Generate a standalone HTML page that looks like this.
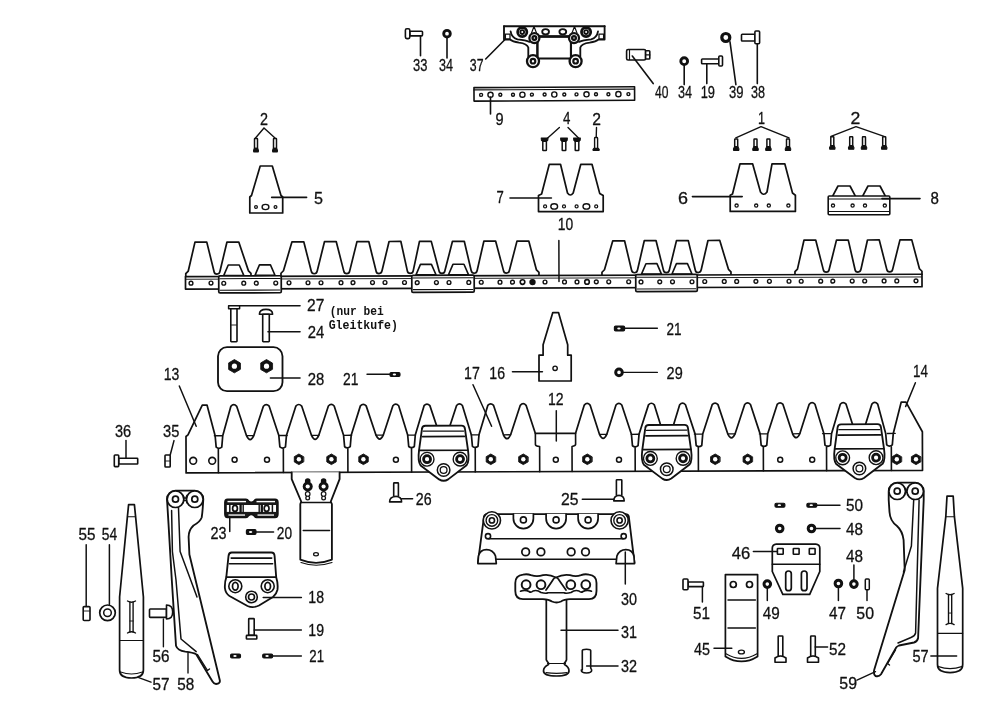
<!DOCTYPE html>
<html><head><meta charset="utf-8"><style>
html,body{margin:0;padding:0;background:#fff;width:1000px;height:712px;overflow:hidden}
svg{display:block;filter:grayscale(1)}
text{font-family:"Liberation Sans",sans-serif;fill:#111;stroke:#111;stroke-width:0.3px}
text.mono{font-family:"Liberation Mono",monospace;stroke:none;font-weight:bold}
</style></head><body>
<svg width="1000" height="712" viewBox="0 0 1000 712" stroke="#111" stroke-width="1.6" stroke-linejoin="round" stroke-linecap="round">
<rect x="0" y="0" width="1000" height="712" fill="#fff" stroke="none"/>
<rect x="409.8" y="31.3" width="12.7" height="4.6" rx="0.8" fill="#fff"/>
<rect x="405.4" y="28.8" width="4.4" height="9.8" rx="1.5" fill="#fff"/>
<line x1="420.5" y1="35.9" x2="420.5" y2="55.7"/>
<text x="413" y="71" textLength="14.4" lengthAdjust="spacingAndGlyphs" font-size="17">33</text>
<circle cx="447" cy="33.7" r="3.3" fill="#fff" stroke-width="2.88"/>
<line x1="447" y1="38" x2="447" y2="58"/>
<text x="439" y="71" textLength="14" lengthAdjust="spacingAndGlyphs" font-size="17">34</text>
<rect x="537.4" y="36.5" width="33.5" height="21.9" fill="#fff" stroke-width="1.95"/>
<line x1="537.4" y1="36.5" x2="570.9" y2="36.5" stroke-width="2.53"/>
<line x1="504" y1="26.2" x2="604.6" y2="26.2" stroke-width="2.07"/>
<path d="M504,26.2 L504,39.5 L510,39.5 Q512.5,41.5 519,42.6 Q527,43.6 528.3,47.5 L528.3,57" fill="none" stroke-width="1.84"/>
<path d="M604.6,26.2 L604.6,39.5 L598.6,39.5 Q596.1,41.5 589.6,42.6 Q581.6,43.6 580.3,47.5 L580.3,57" fill="none" stroke-width="1.84"/>
<path d="M510.6,31.4 Q511.5,37.5 517.5,39.4 Q526,40.4 529.5,41.8" fill="none" stroke-width="1.84"/>
<path d="M598,31.4 Q597.1,37.5 591.1,39.4 Q582.6,40.4 579.1,41.8" fill="none" stroke-width="1.84"/>
<rect x="505.4" y="34.1" width="4.6" height="5.1" fill="none" stroke-width="1.26"/>
<rect x="599" y="34.1" width="4.6" height="5.1" fill="none" stroke-width="1.26"/>
<line x1="537.4" y1="43" x2="537.4" y2="57" stroke-width="2.07"/>
<line x1="571" y1="43" x2="571" y2="57" stroke-width="2.07"/>
<circle cx="522.25" cy="32.1" r="4.6" fill="#fff" stroke-width="2.76"/>
<circle cx="522.25" cy="32.1" r="1.9" fill="#fff" stroke-width="1.84"/>
<circle cx="586.1" cy="32.1" r="4.6" fill="#fff" stroke-width="2.76"/>
<circle cx="586.1" cy="32.1" r="1.9" fill="#fff" stroke-width="1.84"/>
<ellipse cx="545.6" cy="31.8" rx="3.4" ry="2.6" fill="#fff" stroke-width="1.84"/>
<ellipse cx="562.8" cy="31.8" rx="3.4" ry="2.6" fill="#fff" stroke-width="1.84"/>
<path d="M531.5,33 L534,26.5 L536.5,33 M572,33 L574.5,26.5 L577,33" fill="none" stroke-width="1.15"/>
<circle cx="534.4" cy="38.1" r="5" fill="#fff" stroke-width="2.3"/>
<circle cx="534.4" cy="38.1" r="1.9" fill="#fff" stroke-width="2.3"/>
<circle cx="574" cy="38.1" r="5" fill="#fff" stroke-width="2.3"/>
<circle cx="574" cy="38.1" r="1.9" fill="#fff" stroke-width="2.3"/>
<circle cx="533" cy="61.2" r="6" fill="#fff" stroke-width="2.3"/>
<circle cx="533" cy="61.2" r="2.3" fill="#fff" stroke-width="2.18"/>
<circle cx="575.6" cy="61.2" r="6" fill="#fff" stroke-width="2.3"/>
<circle cx="575.6" cy="61.2" r="2.3" fill="#fff" stroke-width="2.18"/>
<line x1="485.7" y1="59" x2="504.5" y2="40"/>
<text x="469.8" y="71" textLength="13.7" lengthAdjust="spacingAndGlyphs" font-size="17">37</text>
<rect x="626.6" y="49.5" width="19" height="10.5" rx="1.5" fill="#fff"/>
<line x1="629.5" y1="50" x2="629.5" y2="59.5" stroke-width="1.15"/>
<rect x="645.6" y="50.8" width="4.2" height="8.2" rx="0.8" fill="#fff"/>
<line x1="645.6" y1="54.9" x2="649.8" y2="54.9" stroke-width="1.15"/>
<line x1="632.3" y1="56" x2="653.2" y2="83.6"/>
<text x="655" y="98" textLength="13.4" lengthAdjust="spacingAndGlyphs" font-size="17">40</text>
<circle cx="684.2" cy="61.2" r="3.4" fill="#fff" stroke-width="2.88"/>
<line x1="684.2" y1="65.4" x2="684.2" y2="84.6"/>
<text x="678" y="98" textLength="14" lengthAdjust="spacingAndGlyphs" font-size="17">34</text>
<rect x="701.6" y="59" width="17.2" height="4.7" rx="0.8" fill="#fff"/>
<rect x="718.8" y="56" width="3.7" height="10" rx="1" fill="#fff"/>
<line x1="706.8" y1="63.7" x2="706.8" y2="83.6"/>
<text x="700.7" y="98" textLength="14.3" lengthAdjust="spacingAndGlyphs" font-size="17">19</text>
<circle cx="725.8" cy="37.5" r="4" fill="#fff" stroke-width="3.22"/>
<line x1="730" y1="41.8" x2="735.9" y2="84.6"/>
<text x="729" y="98" textLength="14.5" lengthAdjust="spacingAndGlyphs" font-size="17">39</text>
<rect x="741.5" y="34.3" width="13.4" height="6.7" rx="0.8" fill="#fff"/>
<rect x="754.9" y="31" width="4.7" height="12.8" rx="1" fill="#fff"/>
<line x1="757.3" y1="43.8" x2="757.3" y2="83.6"/>
<text x="751" y="98" textLength="14" lengthAdjust="spacingAndGlyphs" font-size="17">38</text>
<g transform="translate(0,0.2) rotate(-0.3 554 94)">
<rect x="474" y="87" width="160.6" height="13.5" fill="#fff"/>
<line x1="474" y1="89.3" x2="634.6" y2="89.3" stroke-width="1.15"/>
<circle cx="481.1" cy="94.3" r="1.5" fill="#fff" stroke-width="1.38"/>
<circle cx="490.5" cy="94.3" r="2.6" fill="#fff" stroke-width="1.38"/>
<circle cx="500.3" cy="94.3" r="1.5" fill="#fff" stroke-width="1.38"/>
<circle cx="513" cy="94.3" r="1.5" fill="#fff" stroke-width="1.38"/>
<circle cx="522.4" cy="94.3" r="2.6" fill="#fff" stroke-width="1.38"/>
<circle cx="531.9" cy="94.3" r="1.5" fill="#fff" stroke-width="1.38"/>
<circle cx="544.6" cy="94.3" r="1.5" fill="#fff" stroke-width="1.38"/>
<circle cx="554.3" cy="94.3" r="2.6" fill="#fff" stroke-width="1.38"/>
<circle cx="564.3" cy="94.3" r="1.5" fill="#fff" stroke-width="1.38"/>
<circle cx="576.5" cy="94.3" r="1.5" fill="#fff" stroke-width="1.38"/>
<circle cx="586.5" cy="94.3" r="2.6" fill="#fff" stroke-width="1.38"/>
<circle cx="596" cy="94.3" r="1.5" fill="#fff" stroke-width="1.38"/>
<circle cx="608.4" cy="94.3" r="1.5" fill="#fff" stroke-width="1.38"/>
<circle cx="618.4" cy="94.3" r="2.6" fill="#fff" stroke-width="1.38"/>
<circle cx="628.4" cy="94.3" r="1.5" fill="#fff" stroke-width="1.38"/>
</g>
<line x1="490.5" y1="97" x2="490.5" y2="114"/>
<text x="495.4" y="124.9" textLength="8.1" lengthAdjust="spacingAndGlyphs" font-size="17">9</text>
<text x="260" y="125" textLength="8" lengthAdjust="spacingAndGlyphs" font-size="17">2</text>
<path d="M264,128 L255.5,138 M264,128 L275,138" fill="none" stroke-width="1.38"/>
<rect x="254.5" y="138.5" width="3" height="10" rx="0.4" fill="#fff" stroke-width="1.49"/>
<path d="M254.3,148.3 L257.7,148.3 L258.5,150.5 L258.3,152 L253.7,152 L253.5,150.5 Z" fill="#111" stroke-width="1.03"/>
<rect x="273.5" y="138.5" width="3" height="10" rx="0.4" fill="#fff" stroke-width="1.49"/>
<path d="M273.3,148.3 L276.7,148.3 L277.5,150.5 L277.3,152 L272.7,152 L272.5,150.5 Z" fill="#111" stroke-width="1.03"/>
<path d="M249.8,197 L251.5,195.5 L260.2,166 L272.3,166 L281,195.5 L282.7,197 L282.7,213 L249.8,213 Z" fill="#fff" stroke-width="1.72"/>
<line x1="271.7" y1="197.4" x2="306.6" y2="197.4"/>
<circle cx="256" cy="207" r="1.4" fill="#fff" stroke-width="1.26"/>
<circle cx="275.5" cy="207" r="1.4" fill="#fff" stroke-width="1.26"/>
<ellipse cx="265.5" cy="207" rx="3.4" ry="2.6" fill="#fff" stroke-width="1.38"/>
<text x="314" y="204" textLength="9" lengthAdjust="spacingAndGlyphs" font-size="17">5</text>
<text x="563" y="124.3" textLength="7.4" lengthAdjust="spacingAndGlyphs" font-size="17">4</text>
<path d="M559.4,127.5 L546,139.6 M568,127.5 L579,138.5" fill="none" stroke-width="1.38"/>
<path d="M541.2,138 L548,138 L547.8,140.2 L546.6,141.5 L542.6,141.5 L541.4,140.2 Z" fill="#111" stroke-width="1.03"/>
<rect x="542.8" y="141.3" width="3.6" height="9.1" rx="0.5" fill="#fff" stroke-width="1.49"/>
<path d="M560.6,138 L567.4,138 L567.2,140.2 L566,141.5 L562,141.5 L560.8,140.2 Z" fill="#111" stroke-width="1.03"/>
<rect x="562.2" y="141.3" width="3.6" height="9.1" rx="0.5" fill="#fff" stroke-width="1.49"/>
<path d="M573.6,138 L580.4,138 L580.2,140.2 L579,141.5 L575,141.5 L573.8,140.2 Z" fill="#111" stroke-width="1.03"/>
<rect x="575.2" y="141.3" width="3.6" height="9.1" rx="0.5" fill="#fff" stroke-width="1.49"/>
<text x="592.3" y="124.6" textLength="8.7" lengthAdjust="spacingAndGlyphs" font-size="17">2</text>
<line x1="596.5" y1="127.5" x2="596.2" y2="138" stroke-width="1.38"/>
<rect x="594.6" y="137.5" width="3" height="11.1" rx="0.8" fill="#fff" stroke-width="1.38"/>
<path d="M593.8,148.3 L598.4,148.3 L599.3,149.6 L599,150.6 L593.2,150.6 L592.9,149.6 Z" fill="#111" stroke-width="1.03"/>
<path d="M538.5,211.6 L538.5,195.5 L541.6,194 L549.3,164.3 L560.5,164.3 L567.5,193 Q570.3,197 573.2,193 L580.8,164.3 L592,164.3 L599.7,193.4 L603.2,195.5 L603.2,211.6 Z" fill="#fff" stroke-width="1.72"/>
<line x1="510" y1="198" x2="551.4" y2="198"/>
<circle cx="545.1" cy="206.4" r="1.5" fill="#fff" stroke-width="1.26"/>
<circle cx="564" cy="206.4" r="1.5" fill="#fff" stroke-width="1.26"/>
<circle cx="576.6" cy="206.4" r="1.5" fill="#fff" stroke-width="1.26"/>
<circle cx="596.2" cy="206.4" r="1.5" fill="#fff" stroke-width="1.26"/>
<ellipse cx="554.2" cy="206.4" rx="3.4" ry="2.7" fill="#fff" stroke-width="1.38"/>
<ellipse cx="586.4" cy="206.4" rx="3.4" ry="2.7" fill="#fff" stroke-width="1.38"/>
<text x="496.5" y="202.5" textLength="7.3" lengthAdjust="spacingAndGlyphs" font-size="17">7</text>
<text x="557.7" y="230.3" textLength="15.4" lengthAdjust="spacingAndGlyphs" font-size="17">10</text>
<text x="758" y="124" textLength="7" lengthAdjust="spacingAndGlyphs" font-size="17">1</text>
<path d="M761,126.6 L735.8,137.8 M761,126.6 L789,137.8" fill="none" stroke-width="1.38"/>
<rect x="734.7" y="139" width="3" height="7.9" rx="0.4" fill="#fff" stroke-width="1.49"/>
<path d="M734.5,146.6 L737.9,146.6 L739,148.9 L738.8,150.4 L733.6,150.4 L733.4,148.9 Z" fill="#111" stroke-width="1.03"/>
<rect x="754" y="139" width="3" height="7.9" rx="0.4" fill="#fff" stroke-width="1.49"/>
<path d="M753.8,146.6 L757.2,146.6 L758.3,148.9 L758.1,150.4 L752.9,150.4 L752.7,148.9 Z" fill="#111" stroke-width="1.03"/>
<rect x="766.9" y="139" width="3" height="7.9" rx="0.4" fill="#fff" stroke-width="1.49"/>
<path d="M766.7,146.6 L770.1,146.6 L771.2,148.9 L771,150.4 L765.8,150.4 L765.6,148.9 Z" fill="#111" stroke-width="1.03"/>
<rect x="786.5" y="139" width="3" height="7.9" rx="0.4" fill="#fff" stroke-width="1.49"/>
<path d="M786.3,146.6 L789.7,146.6 L790.8,148.9 L790.6,150.4 L785.4,150.4 L785.2,148.9 Z" fill="#111" stroke-width="1.03"/>
<text x="850.6" y="124" textLength="9.8" lengthAdjust="spacingAndGlyphs" font-size="17">2</text>
<path d="M856,126.6 L831,136.4 M856,126.6 L884,136.4" fill="none" stroke-width="1.38"/>
<rect x="830.8" y="136.8" width="3" height="8.9" rx="0.4" fill="#fff" stroke-width="1.49"/>
<path d="M830.6,145.4 L834,145.4 L835.1,147.7 L834.9,149.2 L829.7,149.2 L829.5,147.7 Z" fill="#111" stroke-width="1.03"/>
<rect x="849.7" y="136.8" width="3" height="8.9" rx="0.4" fill="#fff" stroke-width="1.49"/>
<path d="M849.5,145.4 L852.9,145.4 L854,147.7 L853.8,149.2 L848.6,149.2 L848.4,147.7 Z" fill="#111" stroke-width="1.03"/>
<rect x="862.5" y="136.8" width="3" height="8.9" rx="0.4" fill="#fff" stroke-width="1.49"/>
<path d="M862.3,145.4 L865.7,145.4 L866.8,147.7 L866.6,149.2 L861.4,149.2 L861.2,147.7 Z" fill="#111" stroke-width="1.03"/>
<rect x="882.7" y="136.8" width="3" height="8.9" rx="0.4" fill="#fff" stroke-width="1.49"/>
<path d="M882.5,145.4 L885.9,145.4 L887,147.7 L886.8,149.2 L881.6,149.2 L881.4,147.7 Z" fill="#111" stroke-width="1.03"/>
<path d="M730.2,211.4 L730.2,195.2 L732.5,194 L740,163.8 L752.6,163.8 L760.5,192 Q763.8,196.5 767,192 L772,163.8 L784.8,163.8 L792.5,193 L795.4,195.2 L795.4,211.4 Z" fill="#fff" stroke-width="1.72"/>
<line x1="692.4" y1="196.6" x2="742.2" y2="196.6"/>
<circle cx="736.6" cy="205.6" r="1.6" fill="#fff" stroke-width="1.26"/>
<circle cx="756.2" cy="205.6" r="1.6" fill="#fff" stroke-width="1.26"/>
<circle cx="768.8" cy="205.6" r="1.6" fill="#fff" stroke-width="1.26"/>
<circle cx="788.4" cy="205.6" r="1.6" fill="#fff" stroke-width="1.26"/>
<text x="678" y="203.6" textLength="10" lengthAdjust="spacingAndGlyphs" font-size="17">6</text>
<path d="M832.5,196.3 L838,186 L850,186 L855.5,196.3 M862.5,196.3 L868,186 L880,186 L885.5,196.3" fill="#fff" stroke-width="1.72"/>
<rect x="828.2" y="196" width="61.6" height="18.8" rx="1" fill="#fff"/>
<line x1="829" y1="199" x2="889" y2="199" stroke-width="1.03"/>
<line x1="829" y1="211.4" x2="889" y2="211.4" stroke-width="1.03"/>
<circle cx="833" cy="205.6" r="1.6" fill="#fff" stroke-width="1.26"/>
<circle cx="852.6" cy="205.6" r="1.6" fill="#fff" stroke-width="1.26"/>
<circle cx="865" cy="205.6" r="1.6" fill="#fff" stroke-width="1.26"/>
<circle cx="884.8" cy="205.6" r="1.6" fill="#fff" stroke-width="1.26"/>
<line x1="882" y1="198.6" x2="920" y2="198.6"/>
<text x="930.4" y="203.6" textLength="8.4" lengthAdjust="spacingAndGlyphs" font-size="17">8</text>
<g transform="translate(0,0.4) rotate(-0.18 553 281)">
<path d="M185.8,275 L185.8,272 L188.3,269.5 L195.1,240.6 L206.9,240.6 L214,269.8 Q214.4,272.6 217,272.6 Q219.6,272.6 220,269.8 L227.1,240.6 L238.9,240.6 L248.5,269.5 L251,272 L251,275" fill="#fff" stroke-width="1.72"/>
<path d="M281,275 L281,272 L283.5,269.5 L292.1,240.6 L303.9,240.6 L311.25,269.8 Q311.65,272.6 314.25,272.6 Q316.85,272.6 317.25,269.8 L324.6,240.6 L336.4,240.6 L343.75,269.8 Q344.15,272.6 346.75,272.6 Q349.35,272.6 349.75,269.8 L357.1,240.6 L368.9,240.6 L376.05,269.8 Q376.45,272.6 379.05,272.6 Q381.65,272.6 382.05,269.8 L389.2,240.6 L401,240.6 L407.3,269.8 Q407.7,272.6 410.3,272.6 Q412.9,272.6 413.3,269.8 L419.6,240.6 L431.4,240.6 L439,269.8 Q439.4,272.6 442,272.6 Q444.6,272.6 445,269.8 L452.6,240.6 L464.4,240.6 L471.2,269.8 Q471.6,272.6 474.2,272.6 Q476.8,272.6 477.2,269.8 L484,240.6 L495.8,240.6 L503.45,269.8 Q503.85,272.6 506.45,272.6 Q509.05,272.6 509.45,269.8 L517.1,240.6 L528.9,240.6 L536.5,269.5 L539,272 L539,275" fill="#fff" stroke-width="1.72"/>
<path d="M602,275 L602,272 L604.5,269.5 L612.9,240.6 L624.7,240.6 L631.55,269.8 Q631.95,272.6 634.55,272.6 Q637.15,272.6 637.55,269.8 L644.4,240.6 L656.2,240.6 L663.4,269.8 Q663.8,272.6 666.4,272.6 Q669,272.6 669.4,269.8 L676.6,240.6 L688.4,240.6 L695.25,269.8 Q695.65,272.6 698.25,272.6 Q700.85,272.6 701.25,269.8 L708.1,240.6 L719.9,240.6 L728.5,269.5 L731,272 L731,275" fill="#fff" stroke-width="1.72"/>
<path d="M795,275 L795,272 L797.5,269.5 L804.1,240.6 L815.9,240.6 L823.25,269.8 Q823.65,272.6 826.25,272.6 Q828.85,272.6 829.25,269.8 L836.6,240.6 L848.4,240.6 L855,269.8 Q855.4,272.6 858,272.6 Q860.6,272.6 861,269.8 L867.6,240.6 L879.4,240.6 L886.75,269.8 Q887.15,272.6 889.75,272.6 Q892.35,272.6 892.75,269.8 L900.1,240.6 L911.9,240.6 L919.5,269.5 L922,272 L922,275" fill="#fff" stroke-width="1.72"/>
<rect x="185.5" y="275" width="736.5" height="12.5" fill="#fff" stroke-width="1.72"/>
<line x1="186" y1="277.7" x2="921.5" y2="277.7" stroke-width="0.92"/>
<circle cx="191" cy="281.6" r="1.9" fill="#fff" stroke-width="1.38"/>
<circle cx="211" cy="281.6" r="1.9" fill="#fff" stroke-width="1.38"/>
<circle cx="224" cy="281.6" r="1.9" fill="#fff" stroke-width="1.38"/>
<circle cx="244" cy="281.6" r="1.9" fill="#fff" stroke-width="1.38"/>
<circle cx="256" cy="281.6" r="1.9" fill="#fff" stroke-width="1.38"/>
<circle cx="276" cy="281.6" r="1.9" fill="#fff" stroke-width="1.38"/>
<circle cx="289" cy="281.6" r="1.9" fill="#fff" stroke-width="1.38"/>
<circle cx="308" cy="281.6" r="1.9" fill="#fff" stroke-width="1.38"/>
<circle cx="321" cy="281.6" r="1.9" fill="#fff" stroke-width="1.38"/>
<circle cx="341" cy="281.6" r="1.9" fill="#fff" stroke-width="1.38"/>
<circle cx="353" cy="281.6" r="1.9" fill="#fff" stroke-width="1.38"/>
<circle cx="372.5" cy="281.6" r="1.9" fill="#fff" stroke-width="1.38"/>
<circle cx="385" cy="281.6" r="1.9" fill="#fff" stroke-width="1.38"/>
<circle cx="404.5" cy="281.6" r="1.9" fill="#fff" stroke-width="1.38"/>
<circle cx="417" cy="281.6" r="1.9" fill="#fff" stroke-width="1.38"/>
<circle cx="436.25" cy="281.6" r="1.9" fill="#fff" stroke-width="1.38"/>
<circle cx="448.75" cy="281.6" r="1.9" fill="#fff" stroke-width="1.38"/>
<circle cx="468.75" cy="281.6" r="1.9" fill="#fff" stroke-width="1.38"/>
<circle cx="481.25" cy="281.6" r="1.9" fill="#fff" stroke-width="1.38"/>
<circle cx="500" cy="281.6" r="1.9" fill="#fff" stroke-width="1.38"/>
<circle cx="512.5" cy="281.6" r="1.9" fill="#fff" stroke-width="1.38"/>
<circle cx="532.5" cy="281.6" r="1.9" fill="#fff" stroke-width="1.38"/>
<circle cx="545" cy="281.6" r="1.9" fill="#fff" stroke-width="1.38"/>
<circle cx="564.5" cy="281.6" r="1.9" fill="#fff" stroke-width="1.38"/>
<circle cx="577" cy="281.6" r="1.9" fill="#fff" stroke-width="1.38"/>
<circle cx="596.3" cy="281.6" r="1.9" fill="#fff" stroke-width="1.38"/>
<circle cx="608.75" cy="281.6" r="1.9" fill="#fff" stroke-width="1.38"/>
<circle cx="628.7" cy="281.6" r="1.9" fill="#fff" stroke-width="1.38"/>
<circle cx="641" cy="281.6" r="1.9" fill="#fff" stroke-width="1.38"/>
<circle cx="659.75" cy="281.6" r="1.9" fill="#fff" stroke-width="1.38"/>
<circle cx="672.5" cy="281.6" r="1.9" fill="#fff" stroke-width="1.38"/>
<circle cx="692" cy="281.6" r="1.9" fill="#fff" stroke-width="1.38"/>
<circle cx="704.75" cy="281.6" r="1.9" fill="#fff" stroke-width="1.38"/>
<circle cx="724.25" cy="281.6" r="1.9" fill="#fff" stroke-width="1.38"/>
<circle cx="736.7" cy="281.6" r="1.9" fill="#fff" stroke-width="1.38"/>
<circle cx="755.9" cy="281.6" r="1.9" fill="#fff" stroke-width="1.38"/>
<circle cx="769.4" cy="281.6" r="1.9" fill="#fff" stroke-width="1.38"/>
<circle cx="789" cy="281.6" r="1.9" fill="#fff" stroke-width="1.38"/>
<circle cx="801.2" cy="281.6" r="1.9" fill="#fff" stroke-width="1.38"/>
<circle cx="820.7" cy="281.6" r="1.9" fill="#fff" stroke-width="1.38"/>
<circle cx="832.8" cy="281.6" r="1.9" fill="#fff" stroke-width="1.38"/>
<circle cx="852.2" cy="281.6" r="1.9" fill="#fff" stroke-width="1.38"/>
<circle cx="864.7" cy="281.6" r="1.9" fill="#fff" stroke-width="1.38"/>
<circle cx="884.1" cy="281.6" r="1.9" fill="#fff" stroke-width="1.38"/>
<circle cx="896.8" cy="281.6" r="1.9" fill="#fff" stroke-width="1.38"/>
<circle cx="916" cy="281.6" r="1.9" fill="#fff" stroke-width="1.38"/>
<circle cx="522.5" cy="281.6" r="2.3" fill="#fff" stroke-width="1.61"/>
<circle cx="532.5" cy="281.6" r="2.6" fill="#111" stroke-width="1.15"/>
<circle cx="587" cy="281.6" r="2.3" fill="#fff" stroke-width="1.61"/>
<path d="M223.8,274 L228.3,263.6 L239.3,263.6 L243.8,274 Z" fill="#fff" stroke-width="1.61"/>
<path d="M255,274 L259.5,263.6 L270.5,263.6 L275,274 Z" fill="#fff" stroke-width="1.61"/>
<rect x="218.75" y="274.5" width="62.5" height="17" rx="1.2" fill="#fff" stroke-width="1.72"/>
<line x1="219.75" y1="277.2" x2="280.25" y2="277.2" stroke-width="1.03"/>
<line x1="220.25" y1="288.8" x2="279.75" y2="288.8" stroke-width="1.03"/>
<circle cx="223.75" cy="281.8" r="1.9" fill="#fff" stroke-width="1.38"/>
<circle cx="243.75" cy="281.8" r="1.9" fill="#fff" stroke-width="1.38"/>
<circle cx="256.25" cy="281.8" r="1.9" fill="#fff" stroke-width="1.38"/>
<circle cx="275.75" cy="281.8" r="1.9" fill="#fff" stroke-width="1.38"/>
<path d="M416,274 L420.5,263.6 L431.5,263.6 L436,274 Z" fill="#fff" stroke-width="1.61"/>
<path d="M448.5,274 L453,263.6 L464,263.6 L468.5,274 Z" fill="#fff" stroke-width="1.61"/>
<rect x="411.8" y="274.5" width="62.4" height="17" rx="1.2" fill="#fff" stroke-width="1.72"/>
<line x1="412.8" y1="277.2" x2="473.2" y2="277.2" stroke-width="1.03"/>
<line x1="413.3" y1="288.8" x2="472.7" y2="288.8" stroke-width="1.03"/>
<circle cx="417.2" cy="281.8" r="1.9" fill="#fff" stroke-width="1.38"/>
<circle cx="436.4" cy="281.8" r="1.9" fill="#fff" stroke-width="1.38"/>
<circle cx="449" cy="281.8" r="1.9" fill="#fff" stroke-width="1.38"/>
<circle cx="468.8" cy="281.8" r="1.9" fill="#fff" stroke-width="1.38"/>
<path d="M641.5,274 L646,263.6 L657,263.6 L661.5,274 Z" fill="#fff" stroke-width="1.61"/>
<path d="M672,274 L676.5,263.6 L687.5,263.6 L692,274 Z" fill="#fff" stroke-width="1.61"/>
<rect x="635.75" y="274.5" width="61.5" height="17" rx="1.2" fill="#fff" stroke-width="1.72"/>
<line x1="636.75" y1="277.2" x2="696.25" y2="277.2" stroke-width="1.03"/>
<line x1="637.25" y1="288.8" x2="695.75" y2="288.8" stroke-width="1.03"/>
<circle cx="641" cy="281.8" r="1.9" fill="#fff" stroke-width="1.38"/>
<circle cx="659.75" cy="281.8" r="1.9" fill="#fff" stroke-width="1.38"/>
<circle cx="672.5" cy="281.8" r="1.9" fill="#fff" stroke-width="1.38"/>
<circle cx="692" cy="281.8" r="1.9" fill="#fff" stroke-width="1.38"/>
<line x1="559" y1="240" x2="559" y2="281" stroke-width="1.49"/>
</g>
<rect x="228.6" y="305.8" width="11" height="2.9" fill="#fff" stroke-width="1.49"/>
<rect x="230.8" y="308.7" width="6.2" height="33" rx="0.6" fill="#fff" stroke-width="1.61"/>
<line x1="231.5" y1="325" x2="236.5" y2="325" stroke-width="0.92"/>
<line x1="239.6" y1="305.8" x2="300" y2="305.8"/>
<text x="307" y="311" textLength="17.3" lengthAdjust="spacingAndGlyphs" font-size="17">27</text>
<text x="329.8" y="315.3" class="mono" font-size="12" textLength="53.9" lengthAdjust="spacingAndGlyphs">(nur bei</text>
<text x="328.7" y="328.5" class="mono" font-size="12" textLength="69.3" lengthAdjust="spacingAndGlyphs">Gleitkufe)</text>
<path d="M259.4,314.2 Q259.4,309.4 266,309.4 Q272.6,309.4 272.6,314.2 Z" fill="#fff" stroke-width="1.61"/>
<rect x="262.7" y="314.2" width="6.6" height="27.5" rx="0.6" fill="#fff" stroke-width="1.61"/>
<line x1="268" y1="331.8" x2="300" y2="331.8"/>
<text x="307.8" y="338.4" textLength="16.5" lengthAdjust="spacingAndGlyphs" font-size="17">24</text>
<rect x="218" y="347.2" width="64.5" height="44" rx="9" fill="#fff" stroke-width="1.84"/>
<path d="M240.12,369.5 L234.4,372.8 L228.68,369.5 L228.68,362.9 L234.4,359.6 L240.12,362.9 Z" fill="#111" stroke-width="0.92"/>
<circle cx="234.4" cy="366.2" r="2.6" fill="#fff" stroke-width="0.01"/>
<path d="M272.22,369.5 L266.5,372.8 L260.78,369.5 L260.78,362.9 L266.5,359.6 L272.22,362.9 Z" fill="#111" stroke-width="0.92"/>
<circle cx="266.5" cy="366.2" r="2.6" fill="#fff" stroke-width="0.01"/>
<line x1="270.4" y1="378" x2="300" y2="378"/>
<text x="307.8" y="384.6" textLength="16.5" lengthAdjust="spacingAndGlyphs" font-size="17">28</text>
<text x="343" y="384.6" textLength="15.4" lengthAdjust="spacingAndGlyphs" font-size="17">21</text>
<line x1="367" y1="374.3" x2="391.4" y2="374.3" stroke-width="1.38"/>
<rect x="390" y="372.5" width="10" height="4" rx="1.2" fill="#111" stroke-width="1.15"/>
<ellipse cx="394.4" cy="374.5" rx="1.7" ry="0.9" fill="#fff" stroke-width="0.01"/>
<path d="M552.8,312.6 L558.5,312.6 L567.7,344.8 L567.7,355.2 L571.2,355.2 L571.2,381 L539,381 L539,355.2 L543.1,355.2 L543.1,344.8 Z" fill="#fff" stroke-width="1.72"/>
<circle cx="555.1" cy="368.3" r="2.2" fill="#fff" stroke-width="1.38"/>
<line x1="512.5" y1="371.75" x2="542.4" y2="371.75"/>
<text x="489.3" y="378.6" textLength="15.7" lengthAdjust="spacingAndGlyphs" font-size="17">16</text>
<text x="464" y="378.6" textLength="15.8" lengthAdjust="spacingAndGlyphs" font-size="17">17</text>
<rect x="614.4" y="326" width="10.2" height="5" rx="1.2" fill="#111" stroke-width="1.15"/>
<ellipse cx="618.9" cy="328.5" rx="1.7" ry="0.9" fill="#fff" stroke-width="0.01"/>
<line x1="624.6" y1="328.3" x2="657.4" y2="328.3" stroke-width="1.38"/>
<text x="666.6" y="334.5" textLength="15" lengthAdjust="spacingAndGlyphs" font-size="17">21</text>
<circle cx="619" cy="372.4" r="3.3" fill="#fff" stroke-width="2.99"/>
<line x1="622.6" y1="372.4" x2="657.4" y2="372.4" stroke-width="1.26"/>
<text x="666.6" y="379.3" textLength="16.1" lengthAdjust="spacingAndGlyphs" font-size="17">29</text>
<g transform="rotate(-0.2 554 440)">
<path d="M186,471.6 L186,435.2 L188,433.6 L202.4,404 L207.2,404 L215.15,434.6 L216.15,446 Q218.95,448.4 221.75,446 L222.75,434.6 L222.75,434.6 L231,405.2 Q233.9,402 236.8,405.2 L246.55,434.6 Q250.15,442.5 253.75,434.6 L263.5,405.2 Q266.4,402 269.3,405.2 L278.85,434.6 L279.85,446 Q282.65,448.4 285.45,446 L286.45,434.6 L286.45,434.6 L296,405.2 Q298.9,402 301.8,405.2 L311.55,434.6 Q315.15,442.5 318.75,434.6 L328.5,405.2 Q331.4,402 334.3,405.2 L343.6,434.6 L344.6,446 Q347.4,448.4 350.2,446 L351.2,434.6 L351.2,434.6 L360.5,405.2 Q363.4,402 366.3,405.2 L376.05,434.6 Q379.65,442.5 383.25,434.6 L393,405.2 Q395.9,402 398.8,405.2 L407.7,434.6 L408.7,446 Q411.5,448.4 414.3,446 L415.3,434.6 L415.3,434.6 L424.2,405.2 Q427.1,402 430,405.2 L439.75,434.6 Q443.35,442.5 446.95,434.6 L456.7,405.2 Q459.6,402 462.5,405.2 L471.4,434.6 L472.4,446 Q475.2,448.4 478,446 L479,434.6 L479,434.6 L487.9,405.2 Q490.8,402 493.7,405.2 L503.45,434.6 Q507.05,442.5 510.65,434.6 L520.4,405.2 Q523.3,402 526.2,405.2 L535.4,433.4 L575.6,433.4 L584.4,405.2 Q587.3,402 590.2,405.2 L599.55,434.6 Q603.15,442.5 606.75,434.6 L616.1,405.2 Q619,402 621.9,405.2 L631.45,434.6 L632.45,446 Q635.25,448.4 638.05,446 L639.05,434.6 L639.05,434.6 L648.6,405.2 Q651.5,402 654.4,405.2 L663.5,434.6 Q667.1,442.5 670.7,434.6 L679.8,405.2 Q682.7,402 685.6,405.2 L695.15,434.6 L696.15,446 Q698.95,448.4 701.75,446 L702.75,434.6 L702.75,434.6 L712.3,405.2 Q715.2,402 718.1,405.2 L727.85,434.6 Q731.45,442.5 735.05,434.6 L744.8,405.2 Q747.7,402 750.6,405.2 L760.15,434.6 L761.15,446 Q763.95,448.4 766.75,446 L767.75,434.6 L767.75,434.6 L777.3,405.2 Q780.2,402 783.1,405.2 L792.6,434.6 Q796.2,442.5 799.8,434.6 L809.3,405.2 Q812.2,402 815.1,405.2 L823.95,434.6 L824.95,446 Q827.75,448.4 830.55,446 L831.55,434.6 L831.55,434.6 L840.4,405.2 Q843.3,402 846.2,405.2 L855.5,434.6 Q859.1,442.5 862.7,434.6 L872,405.2 Q874.9,402 877.8,405.2 L885.7,434.6 L886.7,446 Q889.5,448.4 892.3,446 L893.3,434.6 L893.3,434.6 L901.3,403.4 L906.1,403.4 L922.4,433 L922.4,471.6 Z" fill="#fff" stroke-width="1.72"/>
<line x1="214.4" y1="434.6" x2="222.2" y2="434.6" stroke-width="1.38"/>
<line x1="218.3" y1="448" x2="218.3" y2="471.6" stroke-width="1.61"/>
<line x1="279.4" y1="434.6" x2="287.2" y2="434.6" stroke-width="1.38"/>
<line x1="283.3" y1="448" x2="283.3" y2="471.6" stroke-width="1.61"/>
<line x1="343.9" y1="434.6" x2="351.7" y2="434.6" stroke-width="1.38"/>
<line x1="347.8" y1="448" x2="347.8" y2="471.6" stroke-width="1.61"/>
<line x1="407.6" y1="434.6" x2="415.4" y2="434.6" stroke-width="1.38"/>
<line x1="411.5" y1="448" x2="411.5" y2="471.6" stroke-width="1.61"/>
<line x1="471.3" y1="434.6" x2="479.1" y2="434.6" stroke-width="1.38"/>
<line x1="475.2" y1="448" x2="475.2" y2="471.6" stroke-width="1.61"/>
<line x1="631.2" y1="434.6" x2="639" y2="434.6" stroke-width="1.38"/>
<line x1="635.1" y1="448" x2="635.1" y2="471.6" stroke-width="1.61"/>
<line x1="694.4" y1="434.6" x2="702.2" y2="434.6" stroke-width="1.38"/>
<line x1="698.3" y1="448" x2="698.3" y2="471.6" stroke-width="1.61"/>
<line x1="759.4" y1="434.6" x2="767.2" y2="434.6" stroke-width="1.38"/>
<line x1="763.3" y1="448" x2="763.3" y2="471.6" stroke-width="1.61"/>
<line x1="822.6" y1="434.6" x2="830.4" y2="434.6" stroke-width="1.38"/>
<line x1="826.5" y1="448" x2="826.5" y2="471.6" stroke-width="1.61"/>
<line x1="887.4" y1="434.6" x2="895.2" y2="434.6" stroke-width="1.38"/>
<line x1="891.3" y1="448" x2="891.3" y2="471.6" stroke-width="1.61"/>
<path d="M535.4,433.4 L535.4,444.5 Q535.6,446 539.6,446.5 L539.6,471.6 M575.6,433.4 L575.6,444.5 Q575.4,446 572,446.5 L572,471.6" fill="none" stroke-width="1.61"/>
<line x1="246.55" y1="434.6" x2="253.75" y2="434.6" stroke-width="1.26"/>
<line x1="311.55" y1="434.6" x2="318.75" y2="434.6" stroke-width="1.26"/>
<line x1="376.05" y1="434.6" x2="383.25" y2="434.6" stroke-width="1.26"/>
<line x1="439.75" y1="434.6" x2="446.95" y2="434.6" stroke-width="1.26"/>
<line x1="503.45" y1="434.6" x2="510.65" y2="434.6" stroke-width="1.26"/>
<line x1="599.55" y1="434.6" x2="606.75" y2="434.6" stroke-width="1.26"/>
<line x1="663.5" y1="434.6" x2="670.7" y2="434.6" stroke-width="1.26"/>
<line x1="727.85" y1="434.6" x2="735.05" y2="434.6" stroke-width="1.26"/>
<line x1="792.6" y1="434.6" x2="799.8" y2="434.6" stroke-width="1.26"/>
<line x1="855.5" y1="434.6" x2="862.7" y2="434.6" stroke-width="1.26"/>
<path d="M425.5,425.3 L461.5,425.3 Q464.7,425.3 465,428.5 L468,450 Q469.5,461 466.5,465 L448,479 Q443.5,481.8 439,479 L420.5,465 Q417.5,461 419,450 L422,428.5 Q422.3,425.3 425.5,425.3 Z" fill="#fff" stroke-width="1.84"/>
<line x1="423.3" y1="430.7" x2="463.7" y2="430.7" stroke-width="1.26"/>
<line x1="422.6" y1="436.1" x2="464.4" y2="436.1" stroke-width="1.72"/>
<line x1="419.3" y1="449.9" x2="467.7" y2="449.9" stroke-width="1.61"/>
<circle cx="427" cy="458.8" r="6.9" fill="#fff" stroke-width="1.38"/>
<circle cx="427" cy="458.8" r="3.5" fill="#fff" stroke-width="2.76"/>
<circle cx="460" cy="458.8" r="6.9" fill="#fff" stroke-width="1.38"/>
<circle cx="460" cy="458.8" r="3.5" fill="#fff" stroke-width="2.76"/>
<circle cx="443.5" cy="469.6" r="6.3" fill="#fff" stroke-width="1.49"/>
<circle cx="443.5" cy="469.6" r="3.4" fill="#fff" stroke-width="1.26"/>
<path d="M648.8,425.3 L684.5,425.3 Q687.7,425.3 688,428.5 L691,450 Q692.5,461 689.5,465 L671.15,479 Q666.65,481.8 662.15,479 L643.8,465 Q640.8,461 642.3,450 L645.3,428.5 Q645.6,425.3 648.8,425.3 Z" fill="#fff" stroke-width="1.84"/>
<line x1="646.6" y1="430.7" x2="686.7" y2="430.7" stroke-width="1.26"/>
<line x1="645.9" y1="436.1" x2="687.4" y2="436.1" stroke-width="1.72"/>
<line x1="642.6" y1="449.9" x2="690.7" y2="449.9" stroke-width="1.61"/>
<circle cx="650.3" cy="458.8" r="6.9" fill="#fff" stroke-width="1.38"/>
<circle cx="650.3" cy="458.8" r="3.5" fill="#fff" stroke-width="2.76"/>
<circle cx="683" cy="458.8" r="6.9" fill="#fff" stroke-width="1.38"/>
<circle cx="683" cy="458.8" r="3.5" fill="#fff" stroke-width="2.76"/>
<circle cx="666.65" cy="469.6" r="6.3" fill="#fff" stroke-width="1.49"/>
<circle cx="666.65" cy="469.6" r="3.4" fill="#fff" stroke-width="1.26"/>
<path d="M841.1,425.3 L877.5,425.3 Q880.7,425.3 881,428.5 L884,450 Q885.5,461 882.5,465 L863.8,479 Q859.3,481.8 854.8,479 L836.1,465 Q833.1,461 834.6,450 L837.6,428.5 Q837.9,425.3 841.1,425.3 Z" fill="#fff" stroke-width="1.84"/>
<line x1="838.9" y1="430.7" x2="879.7" y2="430.7" stroke-width="1.26"/>
<line x1="838.2" y1="436.1" x2="880.4" y2="436.1" stroke-width="1.72"/>
<line x1="834.9" y1="449.9" x2="883.7" y2="449.9" stroke-width="1.61"/>
<circle cx="842.6" cy="458.8" r="6.9" fill="#fff" stroke-width="1.38"/>
<circle cx="842.6" cy="458.8" r="3.5" fill="#fff" stroke-width="2.76"/>
<circle cx="876" cy="458.8" r="6.9" fill="#fff" stroke-width="1.38"/>
<circle cx="876" cy="458.8" r="3.5" fill="#fff" stroke-width="2.76"/>
<circle cx="859.3" cy="469.6" r="6.3" fill="#fff" stroke-width="1.49"/>
<circle cx="859.3" cy="469.6" r="3.4" fill="#fff" stroke-width="1.26"/>
</g>
<circle cx="193.2" cy="460.8" r="3.4" fill="#fff" stroke-width="1.61"/>
<circle cx="212.2" cy="460.8" r="3.4" fill="#fff" stroke-width="1.61"/>
<circle cx="234.6" cy="459.8" r="2.5" fill="#fff" stroke-width="1.49"/>
<circle cx="267" cy="459.8" r="2.5" fill="#fff" stroke-width="1.49"/>
<circle cx="395.9" cy="459.8" r="2.5" fill="#fff" stroke-width="1.49"/>
<circle cx="555.8" cy="459.8" r="2.5" fill="#fff" stroke-width="1.49"/>
<circle cx="619" cy="459.8" r="2.5" fill="#fff" stroke-width="1.49"/>
<circle cx="780.2" cy="459.8" r="2.5" fill="#fff" stroke-width="1.49"/>
<circle cx="812.2" cy="459.8" r="2.5" fill="#fff" stroke-width="1.49"/>
<path d="M303.49,461.95 L298.9,464.6 L294.31,461.95 L294.31,456.65 L298.9,454 L303.49,456.65 Z" fill="#111" stroke-width="0.92"/>
<circle cx="298.9" cy="459.3" r="2.2" fill="#fff" stroke-width="0.01"/>
<path d="M335.99,461.95 L331.4,464.6 L326.81,461.95 L326.81,456.65 L331.4,454 L335.99,456.65 Z" fill="#111" stroke-width="0.92"/>
<circle cx="331.4" cy="459.3" r="2.2" fill="#fff" stroke-width="0.01"/>
<path d="M367.99,461.95 L363.4,464.6 L358.81,461.95 L358.81,456.65 L363.4,454 L367.99,456.65 Z" fill="#111" stroke-width="0.92"/>
<circle cx="363.4" cy="459.3" r="2.2" fill="#fff" stroke-width="0.01"/>
<path d="M495.39,461.95 L490.8,464.6 L486.21,461.95 L486.21,456.65 L490.8,454 L495.39,456.65 Z" fill="#111" stroke-width="0.92"/>
<circle cx="490.8" cy="459.3" r="2.2" fill="#fff" stroke-width="0.01"/>
<path d="M527.89,461.95 L523.3,464.6 L518.71,461.95 L518.71,456.65 L523.3,454 L527.89,456.65 Z" fill="#111" stroke-width="0.92"/>
<circle cx="523.3" cy="459.3" r="2.2" fill="#fff" stroke-width="0.01"/>
<path d="M591.89,461.95 L587.3,464.6 L582.71,461.95 L582.71,456.65 L587.3,454 L591.89,456.65 Z" fill="#111" stroke-width="0.92"/>
<circle cx="587.3" cy="459.3" r="2.2" fill="#fff" stroke-width="0.01"/>
<path d="M719.79,461.95 L715.2,464.6 L710.61,461.95 L710.61,456.65 L715.2,454 L719.79,456.65 Z" fill="#111" stroke-width="0.92"/>
<circle cx="715.2" cy="459.3" r="2.2" fill="#fff" stroke-width="0.01"/>
<path d="M752.29,461.95 L747.7,464.6 L743.11,461.95 L743.11,456.65 L747.7,454 L752.29,456.65 Z" fill="#111" stroke-width="0.92"/>
<circle cx="747.7" cy="459.3" r="2.2" fill="#fff" stroke-width="0.01"/>
<path d="M901.39,461.95 L896.8,464.6 L892.21,461.95 L892.21,456.65 L896.8,454 L901.39,456.65 Z" fill="#111" stroke-width="0.92"/>
<circle cx="896.8" cy="459.3" r="2.2" fill="#fff" stroke-width="0.01"/>
<path d="M920.59,461.95 L916,464.6 L911.41,461.95 L911.41,456.65 L916,454 L920.59,456.65 Z" fill="#111" stroke-width="0.92"/>
<circle cx="916" cy="459.3" r="2.2" fill="#fff" stroke-width="0.01"/>
<line x1="179.3" y1="386" x2="196.2" y2="426.3" stroke-width="1.49"/>
<text x="163.7" y="379.7" textLength="15.6" lengthAdjust="spacingAndGlyphs" font-size="17">13</text>
<line x1="473" y1="384.8" x2="491.6" y2="426.3" stroke-width="1.49"/>
<line x1="556.3" y1="410.7" x2="556.3" y2="441" stroke-width="1.49"/>
<text x="548" y="404.7" textLength="15.6" lengthAdjust="spacingAndGlyphs" font-size="17">12</text>
<line x1="915.4" y1="382.8" x2="905.6" y2="406.6" stroke-width="1.49"/>
<text x="913" y="377.4" textLength="14.9" lengthAdjust="spacingAndGlyphs" font-size="17">14</text>
<rect x="118.7" y="458.3" width="19" height="5.7" rx="0.6" fill="#fff" stroke-width="1.61"/>
<rect x="114.3" y="455" width="4.4" height="11.6" rx="0.8" fill="#fff" stroke-width="1.61"/>
<line x1="126" y1="440.6" x2="126" y2="458.3" stroke-width="1.49"/>
<text x="115" y="436.7" textLength="16.2" lengthAdjust="spacingAndGlyphs" font-size="17">36</text>
<rect x="165" y="455" width="5.2" height="12" rx="0.8" fill="#fff" stroke-width="1.61"/>
<line x1="165.3" y1="461" x2="170" y2="461" stroke-width="0.92"/>
<line x1="174" y1="440.6" x2="170.2" y2="455" stroke-width="1.49"/>
<text x="163" y="436.7" textLength="16.3" lengthAdjust="spacingAndGlyphs" font-size="17">35</text>
<path d="M291.7,472.3 L291.7,479.1 L301.2,501.5 L300.3,504 L300.3,559.6 Q316,566 331.9,559.6 L331.9,504 L330.8,501.5 L339.6,479.1 L339.6,472.3" fill="#fff" stroke-width="1.84"/>
<line x1="301.2" y1="502.5" x2="330.8" y2="502.5" stroke-width="1.49"/>
<line x1="303.2" y1="530.5" x2="329.6" y2="530.5" stroke-width="1.38"/>
<path d="M301,562.5 Q316,568 332,562.5" fill="none" stroke-width="1.15"/>
<ellipse cx="316" cy="554.3" rx="2.4" ry="1.6" fill="#fff" stroke-width="1.26"/>
<circle cx="307.7" cy="481" r="2.8" fill="#111" stroke-width="0.01"/>
<circle cx="307.7" cy="486.5" r="5" fill="#111" stroke-width="0.01"/>
<circle cx="307.7" cy="494" r="2.9" fill="#111" stroke-width="0.01"/>
<circle cx="307.7" cy="498" r="2.5" fill="#111" stroke-width="0.01"/>
<circle cx="307.7" cy="486.5" r="2.1" fill="#fff" stroke-width="0.01"/>
<circle cx="307.7" cy="494" r="1.7" fill="#fff" stroke-width="0.01"/>
<circle cx="307.7" cy="498" r="1.2" fill="#fff" stroke-width="0.01"/>
<circle cx="323.6" cy="481" r="2.8" fill="#111" stroke-width="0.01"/>
<circle cx="323.6" cy="486.5" r="5" fill="#111" stroke-width="0.01"/>
<circle cx="323.6" cy="494" r="2.9" fill="#111" stroke-width="0.01"/>
<circle cx="323.6" cy="498" r="2.5" fill="#111" stroke-width="0.01"/>
<circle cx="323.6" cy="486.5" r="2.1" fill="#fff" stroke-width="0.01"/>
<circle cx="323.6" cy="494" r="1.7" fill="#fff" stroke-width="0.01"/>
<circle cx="323.6" cy="498" r="1.2" fill="#fff" stroke-width="0.01"/>
<path d="M227.5,499.2 L246,499.2 Q247.5,499.2 248.5,501 Q251.2,503.5 254,501 Q255,499.2 256.5,499.2 L275,499.2 Q277.9,499.2 277.9,502.5 L277.9,514 Q277.9,517.4 275,517.4 L256.5,517.4 Q255,517.4 254,515.6 Q251.2,513.2 248.5,515.6 Q247.5,517.4 246,517.4 L227.5,517.4 Q224.9,517.4 224.9,514 L224.9,502.5 Q224.9,499.2 227.5,499.2 Z" fill="#1a1a1a" stroke-width="1.61"/>
<rect x="227.5" y="500.9" width="18.5" height="1.4" fill="#fff" stroke-width="0.01"/>
<rect x="228.5" y="514.4" width="16.5" height="1.3" fill="#fff" stroke-width="0.01"/>
<rect x="256.5" y="500.9" width="18.5" height="1.4" fill="#fff" stroke-width="0.01"/>
<rect x="257.5" y="514.4" width="16.5" height="1.3" fill="#fff" stroke-width="0.01"/>
<rect x="226.8" y="505" width="49.2" height="6.9" fill="#fff" stroke-width="0.01"/>
<line x1="229.8" y1="505" x2="229.8" y2="511.9" stroke-width="1.49"/>
<line x1="240.6" y1="505" x2="240.6" y2="511.9" stroke-width="2.3"/>
<line x1="243.2" y1="505" x2="243.2" y2="511.9" stroke-width="1.38"/>
<line x1="259.2" y1="505" x2="259.2" y2="511.9" stroke-width="1.38"/>
<line x1="261.8" y1="505" x2="261.8" y2="511.9" stroke-width="2.3"/>
<line x1="272.4" y1="505" x2="272.4" y2="511.9" stroke-width="1.49"/>
<ellipse cx="235" cy="508.45" rx="2.4" ry="3" fill="none" stroke-width="1.72"/>
<ellipse cx="266.6" cy="508.45" rx="2.4" ry="3" fill="none" stroke-width="1.72"/>
<line x1="229.75" y1="516.4" x2="229.75" y2="531.6" stroke-width="1.49"/>
<text x="210.4" y="538.8" textLength="16" lengthAdjust="spacingAndGlyphs" font-size="17">23</text>
<rect x="246.4" y="529.6" width="9.6" height="4.8" rx="1.2" fill="#111" stroke-width="1.15"/>
<ellipse cx="250.6" cy="532" rx="1.7" ry="0.9" fill="#fff" stroke-width="0.01"/>
<line x1="256" y1="532" x2="273.6" y2="532" stroke-width="1.38"/>
<text x="276.8" y="538.8" textLength="15.2" lengthAdjust="spacingAndGlyphs" font-size="17">20</text>
<path d="M231.7,552.5 L271.3,552.5 Q274.4,552.5 274.6,556.1 L276.2,577.2 Q278.3,584 277.4,590 Q276.5,594 273,597 L259,605.5 Q253,608.5 247.5,606 L229.5,596 Q225.5,593.5 224.9,588 Q224.6,582 226.3,577.2 L228.5,556.1 Q228.8,552.5 231.7,552.5 Z" fill="#fff" stroke-width="1.84"/>
<line x1="231.2" y1="558.1" x2="271.7" y2="558.1" stroke-width="1.61"/>
<line x1="229.5" y1="563.7" x2="272.6" y2="563.7" stroke-width="1.61"/>
<line x1="226.3" y1="577.2" x2="276.2" y2="577.2" stroke-width="1.72"/>
<circle cx="235.3" cy="586.2" r="6.5" fill="#fff" stroke-width="1.61"/>
<ellipse cx="235.3" cy="586.2" rx="2.8" ry="3.9" fill="#fff" stroke-width="1.72"/>
<circle cx="267.7" cy="586.2" r="6.5" fill="#fff" stroke-width="1.61"/>
<ellipse cx="267.7" cy="586.2" rx="2.8" ry="3.9" fill="#fff" stroke-width="1.72"/>
<circle cx="251.5" cy="597" r="5.8" fill="#fff" stroke-width="1.61"/>
<circle cx="251.5" cy="597" r="3" fill="#fff" stroke-width="1.61"/>
<line x1="263.2" y1="597.5" x2="301.4" y2="597.5" stroke-width="1.49"/>
<text x="308.3" y="603" textLength="15.7" lengthAdjust="spacingAndGlyphs" font-size="17">18</text>
<rect x="248.7" y="618.6" width="5.5" height="16.8" rx="0.6" fill="#fff" stroke-width="1.61"/>
<rect x="246.4" y="635.4" width="10.4" height="3.6" rx="0.6" fill="#fff" stroke-width="1.61"/>
<line x1="254.2" y1="630" x2="301.4" y2="630" stroke-width="1.49"/>
<text x="308.3" y="636.3" textLength="15.7" lengthAdjust="spacingAndGlyphs" font-size="17">19</text>
<rect x="230.6" y="654" width="9.9" height="4" rx="1.2" fill="#111" stroke-width="1.15"/>
<ellipse cx="234.95" cy="656" rx="1.7" ry="0.9" fill="#fff" stroke-width="0.01"/>
<rect x="262.7" y="654" width="9.9" height="4" rx="1.2" fill="#111" stroke-width="1.15"/>
<ellipse cx="267.05" cy="656" rx="1.7" ry="0.9" fill="#fff" stroke-width="0.01"/>
<line x1="273" y1="656" x2="301.4" y2="656" stroke-width="1.38"/>
<text x="309.3" y="662" textLength="14.7" lengthAdjust="spacingAndGlyphs" font-size="17">21</text>
<line x1="86.2" y1="544.8" x2="86.2" y2="606.6" stroke-width="1.49"/>
<rect x="83.2" y="606.6" width="6.8" height="13.9" rx="1" fill="#fff" stroke-width="1.61"/>
<line x1="83.4" y1="611" x2="89.8" y2="611" stroke-width="0.92"/>
<text x="78.5" y="540.2" textLength="17" lengthAdjust="spacingAndGlyphs" font-size="17">55</text>
<line x1="109.4" y1="544.8" x2="109.4" y2="604.5" stroke-width="1.49"/>
<circle cx="107.5" cy="612.8" r="7.8" fill="#fff" stroke-width="1.72"/>
<circle cx="107.5" cy="612.8" r="3.8" fill="#fff" stroke-width="1.49"/>
<text x="101.7" y="540.2" textLength="15.4" lengthAdjust="spacingAndGlyphs" font-size="17">54</text>
<path d="M128.6,504.7 L134.4,504.7 L135.6,516.7 L143.4,597 L143.4,670 Q143.4,678 131.5,678 Q119.6,678 119.6,670 L119.6,597 L127.4,516.7 Z" fill="#fff" stroke-width="1.72"/>
<line x1="127.5" y1="516.7" x2="135.5" y2="516.7" stroke-width="1.15"/>
<line x1="119.6" y1="640.5" x2="143.4" y2="640.5" stroke-width="1.15"/>
<path d="M120.6,672 Q131.5,676 142.4,672" fill="none" stroke-width="1.15"/>
<line x1="129.9" y1="602" x2="129.9" y2="632" stroke-width="1.38"/>
<line x1="133.1" y1="602" x2="133.1" y2="632" stroke-width="1.38"/>
<path d="M127.5,601 Q131.5,603.5 135.5,601 M127.5,633 Q131.5,630.5 135.5,633" fill="none" stroke-width="1.38"/>
<line x1="129.9" y1="621" x2="133.1" y2="621" stroke-width="0.92"/>
<line x1="138.7" y1="677.6" x2="151" y2="682.2" stroke-width="1.38"/>
<text x="152.6" y="690" textLength="17" lengthAdjust="spacingAndGlyphs" font-size="17">57</text>
<path d="M947,496.2 L953.2,496.2 L954.4,516.7 L962.7,588.3 L962.7,664.6 Q962.7,672.6 950.1,672.6 Q937.5,672.6 937.5,664.6 L937.5,588.3 L945.8,516.7 Z" fill="#fff" stroke-width="1.72"/>
<line x1="945.9" y1="516.7" x2="954.3" y2="516.7" stroke-width="1.15"/>
<line x1="937.5" y1="633.3" x2="962.7" y2="633.3" stroke-width="1.15"/>
<path d="M938.5,666.6 Q950.1,670.6 961.7,666.6" fill="none" stroke-width="1.15"/>
<line x1="948.5" y1="594.5" x2="948.5" y2="623.6" stroke-width="1.38"/>
<line x1="951.7" y1="594.5" x2="951.7" y2="623.6" stroke-width="1.38"/>
<path d="M946.1,593.5 Q950.1,596 954.1,593.5 M946.1,624.6 Q950.1,622.1 954.1,624.6" fill="none" stroke-width="1.38"/>
<line x1="948.5" y1="613.05" x2="951.7" y2="613.05" stroke-width="0.92"/>
<line x1="930.8" y1="656" x2="956.7" y2="656" stroke-width="1.38"/>
<text x="912.4" y="662.4" textLength="16.2" lengthAdjust="spacingAndGlyphs" font-size="17">57</text>
<rect x="149.5" y="609" width="17" height="8.4" rx="0.8" fill="#fff" stroke-width="1.61"/>
<path d="M166.5,605 Q172.7,605 172.7,612 Q172.7,619 166.5,619 Z" fill="#fff" stroke-width="1.61"/>
<line x1="163.4" y1="619" x2="163.4" y2="646.7" stroke-width="1.38"/>
<text x="152.6" y="662" textLength="17" lengthAdjust="spacingAndGlyphs" font-size="17">56</text>
<path d="M167,499.2 A8.5,8.5 0 0 1 175.5,490.7 L194.8,490.7 A8.5,8.5 0 0 1 203.3,499.2 L202.8,507 Q202.4,513 201.7,517.5 Q200,522 193.5,525.5 Q188.6,530 188.6,537 L189.4,554.5 L219.8,680.3 Q220.5,683.5 216,684 Q214,684 212.5,681.5 L196.2,654.2 Q193,652.5 185.3,651.6 Q177.5,650.5 176,645.7 L171.8,580 L168.5,523.6 Z" fill="#fff" stroke-width="1.84"/>
<circle cx="175.5" cy="499.2" r="8.3" fill="#fff" stroke-width="1.72"/>
<circle cx="175.5" cy="499.2" r="3" fill="#fff" stroke-width="1.72"/>
<circle cx="194.8" cy="499.2" r="8.3" fill="#fff" stroke-width="1.72"/>
<circle cx="194.8" cy="499.2" r="3" fill="#fff" stroke-width="1.72"/>
<path d="M183,495 L187,503 M187,495 L183,503" fill="none" stroke-width="1.03"/>
<path d="M171.6,510.5 L172.4,551.5 L176,580 L181,639 L196.2,651.6" fill="none" stroke-width="1.49"/>
<path d="M178.5,508 L180.1,551.5 L197,597" fill="none" stroke-width="1.49"/>
<path d="M197.5,654.5 L207.5,670.5 L209.5,669" fill="none" stroke-width="1.38"/>
<line x1="188" y1="653" x2="188" y2="673" stroke-width="1.38"/>
<text x="177.3" y="690" textLength="17" lengthAdjust="spacingAndGlyphs" font-size="17">58</text>
<path d="M888.7,491.2 A8.5,8.5 0 0 1 897.2,482.7 L915.2,482.7 A8.5,8.5 0 0 1 923.7,491.2 L923.7,500 L918.1,638 Q917.5,641.5 914,642.5 L899,645.5 Q896.8,646.5 896.2,647.5 L881,674.2 Q879,677 875.5,676 Q873,674 874.3,669.4 L904.7,570 L903.6,540 Q902.5,531 897,526 Q890,521 889.5,512 L888.7,500 Z" fill="#fff" stroke-width="1.84"/>
<circle cx="897.2" cy="491.2" r="8.3" fill="#fff" stroke-width="1.72"/>
<circle cx="897.2" cy="491.2" r="3" fill="#fff" stroke-width="1.72"/>
<circle cx="915.2" cy="491.2" r="8.3" fill="#fff" stroke-width="1.72"/>
<circle cx="915.2" cy="491.2" r="3" fill="#fff" stroke-width="1.72"/>
<path d="M904.3,487 L908.1,495 M908.1,487 L904.3,495" fill="none" stroke-width="1.03"/>
<path d="M913.7,500 L911.4,546 L903.5,572" fill="none" stroke-width="1.49"/>
<path d="M919.1,500 L915.6,633 Q915,636 911,637.5 L898,643" fill="none" stroke-width="1.49"/>
<path d="M895.5,650 L887.5,663.5 L889.5,665" fill="none" stroke-width="1.38"/>
<line x1="857" y1="680.2" x2="875.5" y2="671.6" stroke-width="1.38"/>
<text x="839.3" y="688.6" textLength="17.7" lengthAdjust="spacingAndGlyphs" font-size="17">59</text>
<rect x="393.7" y="482.9" width="4.7" height="13.6" rx="0.6" fill="#fff" stroke-width="1.61"/>
<path d="M389.6,501.9 Q389.6,496.5 396,496.5 Q401.6,496.5 401.6,501.9 Z" fill="#fff" stroke-width="1.61"/>
<line x1="401.6" y1="498.7" x2="412.6" y2="498.7" stroke-width="1.49"/>
<text x="415.8" y="505" textLength="15.8" lengthAdjust="spacingAndGlyphs" font-size="17">26</text>
<rect x="616.4" y="479.7" width="5.4" height="15.8" rx="0.6" fill="#fff" stroke-width="1.61"/>
<path d="M613.8,500.9 Q613.8,495.5 619,495.5 Q624.2,495.5 624.2,500.9 Z" fill="#fff" stroke-width="1.61"/>
<line x1="582.3" y1="499.3" x2="613.9" y2="499.3" stroke-width="1.49"/>
<text x="561" y="505" textLength="17.5" lengthAdjust="spacingAndGlyphs" font-size="17">25</text>
<path d="M477.9,562.8 L484,516.5 Q484.6,514.1 487.5,514.1 L625.5,514.1 Q628.2,514.1 628.8,516.5 L634.5,562.8" fill="none" stroke-width="1.84"/>
<line x1="487" y1="559.25" x2="626" y2="559.25" stroke-width="1.61"/>
<path d="M513.4,514.1 L513.4,518.6 A10,10 0 0 0 533.4,518.6 L533.4,514.1" fill="#fff" stroke-width="1.72"/>
<circle cx="523.4" cy="519.9" r="3" fill="#fff" stroke-width="1.61"/>
<path d="M546.1,514.1 L546.1,518.6 A10,10 0 0 0 566.1,518.6 L566.1,514.1" fill="#fff" stroke-width="1.72"/>
<circle cx="556.1" cy="519.9" r="3" fill="#fff" stroke-width="1.61"/>
<path d="M578.1,514.1 L578.1,518.6 A10,10 0 0 0 598.1,518.6 L598.1,514.1" fill="#fff" stroke-width="1.72"/>
<circle cx="588.1" cy="519.9" r="3" fill="#fff" stroke-width="1.61"/>
<circle cx="491.9" cy="520.4" r="8.6" fill="#fff" stroke-width="1.61"/>
<circle cx="491.9" cy="520.4" r="5.8" fill="none" stroke-width="1.38"/>
<circle cx="491.9" cy="520.4" r="2.6" fill="none" stroke-width="1.61"/>
<circle cx="619.6" cy="520.4" r="8.6" fill="#fff" stroke-width="1.61"/>
<circle cx="619.6" cy="520.4" r="5.8" fill="none" stroke-width="1.38"/>
<circle cx="619.6" cy="520.4" r="2.6" fill="none" stroke-width="1.61"/>
<circle cx="488" cy="536.2" r="2.6" fill="#fff" stroke-width="1.61"/>
<circle cx="623.7" cy="536.2" r="2.6" fill="#fff" stroke-width="1.61"/>
<line x1="488" y1="538.8" x2="623.7" y2="538.8" stroke-width="1.61"/>
<circle cx="525.65" cy="551.9" r="3.8" fill="#fff" stroke-width="1.72"/>
<circle cx="540.9" cy="551.9" r="3.8" fill="#fff" stroke-width="1.72"/>
<circle cx="571.15" cy="551.9" r="3.8" fill="#fff" stroke-width="1.72"/>
<circle cx="585.5" cy="551.9" r="3.8" fill="#fff" stroke-width="1.72"/>
<path d="M477.9,563.6 L478.5,556 Q480,549.6 486.5,549.6 Q493,549.6 495.5,556 L496.3,563.6 Z" fill="#fff" stroke-width="1.72"/>
<path d="M634.5,563.6 L633.9,556 Q632.4,549.6 625.9,549.6 Q619.4,549.6 616.9,556 L616.1,563.6 Z" fill="#fff" stroke-width="1.72"/>
<line x1="625.3" y1="552" x2="625.3" y2="584" stroke-width="1.49"/>
<text x="621" y="604.5" textLength="16" lengthAdjust="spacingAndGlyphs" font-size="17">30</text>
<path d="M546.3,600.1 L546.3,659.8 Q547.5,662 548.5,663 L548.5,664.5 Q543.5,667 543.5,671 Q543.5,676 556.5,676 Q569,676 569,671 Q569,667 564.5,664.5 L564.5,663 Q565.6,662 566.5,659.8 L566.5,600.1" fill="#fff" stroke-width="1.72"/>
<line x1="547.5" y1="663.5" x2="565.5" y2="663.5" stroke-width="1.15"/>
<path d="M546,672.6 Q556.5,674 567,672.6" fill="none" stroke-width="1.15"/>
<path d="M523,574.7 Q527,573.6 531,575.2 Q537,577 543,575.2 Q549,574 556,577.5 Q563,574 570,575.2 Q576,577 581,575.2 Q585,573.6 589,574.7 Q596.5,575.5 596.5,583 L596.5,591 Q596.5,599.2 589,599.2 L570,599.2 Q564,599.5 561,601.5 Q556.5,603.5 552,601.5 Q549,599.5 543,599.2 L523,599.2 Q515.3,599.2 515.3,591 L515.3,583 Q515.3,575.5 523,574.7 Z" fill="#fff" stroke-width="1.84"/>
<circle cx="526.1" cy="584.7" r="4.4" fill="#fff" stroke-width="1.95"/>
<circle cx="541" cy="584.7" r="4.4" fill="#fff" stroke-width="1.95"/>
<circle cx="570.8" cy="584.7" r="4.4" fill="#fff" stroke-width="1.95"/>
<circle cx="585.8" cy="584.7" r="4.4" fill="#fff" stroke-width="1.95"/>
<path d="M546,590 Q551,583 553.5,579 Q555.9,576 558.3,579 Q561,583 566,590" fill="none" stroke-width="1.72"/>
<path d="M520.5,591.2 Q525,589.5 529,591.5 Q531,593 533,591 Q537,589.5 541,592.5 Q546,593.8 548,592.7 L564,592.7 Q566,593.8 571,592.5 Q575,589.5 579,591 Q581,593 583,591.5 Q587,589.5 591.5,591.2" fill="none" stroke-width="1.61"/>
<line x1="561" y1="630.3" x2="618" y2="630.3" stroke-width="1.49"/>
<text x="621" y="637.7" textLength="16" lengthAdjust="spacingAndGlyphs" font-size="17">31</text>
<path d="M582.3,670 L582.3,650.5 Q582.3,649.3 586.5,649.3 Q590.7,649.3 590.7,650.5 L590.7,668 L591.7,670 Q591.7,673 586.5,673 Q581.3,673 581.3,670 Z" fill="#fff" stroke-width="1.61"/>
<line x1="586.6" y1="666" x2="618" y2="666" stroke-width="1.49"/>
<text x="621" y="672.4" textLength="16" lengthAdjust="spacingAndGlyphs" font-size="17">32</text>
<rect x="775" y="503.2" width="9.9" height="4" rx="1.2" fill="#111" stroke-width="1.15"/>
<ellipse cx="779.35" cy="505.2" rx="1.7" ry="0.9" fill="#fff" stroke-width="0.01"/>
<rect x="806.9" y="503.2" width="9.9" height="4" rx="1.2" fill="#111" stroke-width="1.15"/>
<ellipse cx="811.25" cy="505.2" rx="1.7" ry="0.9" fill="#fff" stroke-width="0.01"/>
<line x1="816.8" y1="505.3" x2="840" y2="505.3" stroke-width="1.38"/>
<text x="846.1" y="511" textLength="17" lengthAdjust="spacingAndGlyphs" font-size="17">50</text>
<circle cx="779.7" cy="528.5" r="3.3" fill="#fff" stroke-width="2.99"/>
<circle cx="811.5" cy="528.5" r="3.3" fill="#fff" stroke-width="2.99"/>
<line x1="815" y1="528.5" x2="840" y2="528.5" stroke-width="1.49"/>
<text x="846.1" y="535" textLength="17" lengthAdjust="spacingAndGlyphs" font-size="17">48</text>
<path d="M776.4,544.1 L815.7,544.1 Q819.8,544.6 819.8,548 L819.8,571.5 L809.7,594.3 L782.8,594.3 L772.3,571.5 L772.3,548 Q772.3,544.6 776.4,544.1 Z" fill="#fff" stroke-width="1.72"/>
<line x1="772.3" y1="564.2" x2="819.8" y2="564.2" stroke-width="1.61"/>
<rect x="777.4" y="548.5" width="5.8" height="5.8" rx="0.5" fill="#fff" stroke-width="1.61"/>
<rect x="793.3" y="548.5" width="5.8" height="5.8" rx="0.5" fill="#fff" stroke-width="1.61"/>
<rect x="809.3" y="548.5" width="5.8" height="5.8" rx="0.5" fill="#fff" stroke-width="1.61"/>
<rect x="785.7" y="571" width="5.6" height="19.7" rx="2.8" fill="#fff" stroke-width="1.72"/>
<rect x="801.4" y="571" width="5.6" height="19.7" rx="2.8" fill="#fff" stroke-width="1.72"/>
<line x1="753.4" y1="551.4" x2="777.4" y2="551.4" stroke-width="1.49"/>
<text x="731.8" y="558.8" textLength="18.5" lengthAdjust="spacingAndGlyphs" font-size="17">46</text>
<line x1="853.9" y1="565" x2="853.9" y2="579.5" stroke-width="1.49"/>
<circle cx="853.9" cy="584.1" r="3.3" fill="#fff" stroke-width="2.99"/>
<text x="846.1" y="562" textLength="17" lengthAdjust="spacingAndGlyphs" font-size="17">48</text>
<circle cx="838.4" cy="583.5" r="3.3" fill="#fff" stroke-width="2.99"/>
<line x1="838.4" y1="588" x2="838.4" y2="600.5" stroke-width="1.49"/>
<text x="829" y="619" textLength="17" lengthAdjust="spacingAndGlyphs" font-size="17">47</text>
<rect x="865.3" y="579" width="4" height="10.7" rx="1" fill="#fff" stroke-width="1.49"/>
<line x1="867" y1="589.7" x2="867" y2="600.5" stroke-width="1.49"/>
<text x="856.3" y="619" textLength="17.7" lengthAdjust="spacingAndGlyphs" font-size="17">50</text>
<rect x="688" y="582" width="15.4" height="4.6" rx="0.6" fill="#fff" stroke-width="1.61"/>
<rect x="683" y="579" width="5" height="10.7" rx="1" fill="#fff" stroke-width="1.61"/>
<line x1="702.4" y1="586.6" x2="702.4" y2="602" stroke-width="1.49"/>
<text x="693" y="619" textLength="17" lengthAdjust="spacingAndGlyphs" font-size="17">51</text>
<path d="M725.4,574.6 L757.6,574.6 L757.6,656.4 Q741.5,666.5 725.4,656.4 Z" fill="#fff" stroke-width="1.72"/>
<path d="M726,653.8 Q741.5,663 757,653.8" fill="none" stroke-width="1.26"/>
<circle cx="733.3" cy="584.5" r="3" fill="#fff" stroke-width="1.72"/>
<circle cx="749.5" cy="584.5" r="3" fill="#fff" stroke-width="1.72"/>
<line x1="728" y1="600.1" x2="755.4" y2="600.1" stroke-width="1.49"/>
<line x1="728" y1="628.1" x2="755.4" y2="628.1" stroke-width="1.49"/>
<ellipse cx="741.4" cy="652" rx="3" ry="1.9" fill="#fff" stroke-width="1.38"/>
<line x1="714" y1="648.3" x2="731.8" y2="648.3" stroke-width="1.49"/>
<text x="694" y="654.6" textLength="16" lengthAdjust="spacingAndGlyphs" font-size="17">45</text>
<circle cx="767.3" cy="584.1" r="3.3" fill="#fff" stroke-width="2.99"/>
<line x1="767.3" y1="588.5" x2="767.3" y2="600.5" stroke-width="1.49"/>
<text x="762.7" y="619" textLength="17" lengthAdjust="spacingAndGlyphs" font-size="17">49</text>
<rect x="778.2" y="636" width="4.6" height="20.5" rx="0.6" fill="#fff" stroke-width="1.61"/>
<path d="M775,662.3 L775,658 Q780.5,654 786,658 L786,662.3 Z" fill="#fff" stroke-width="1.61"/>
<rect x="810.7" y="636" width="4.6" height="20.5" rx="0.6" fill="#fff" stroke-width="1.61"/>
<path d="M807.5,662.3 L807.5,658 Q813,654 818.5,658 L818.5,662.3 Z" fill="#fff" stroke-width="1.61"/>
<line x1="815.2" y1="646.9" x2="827.6" y2="646.9" stroke-width="1.49"/>
<text x="829" y="654.6" textLength="17" lengthAdjust="spacingAndGlyphs" font-size="17">52</text>
</svg></body></html>
